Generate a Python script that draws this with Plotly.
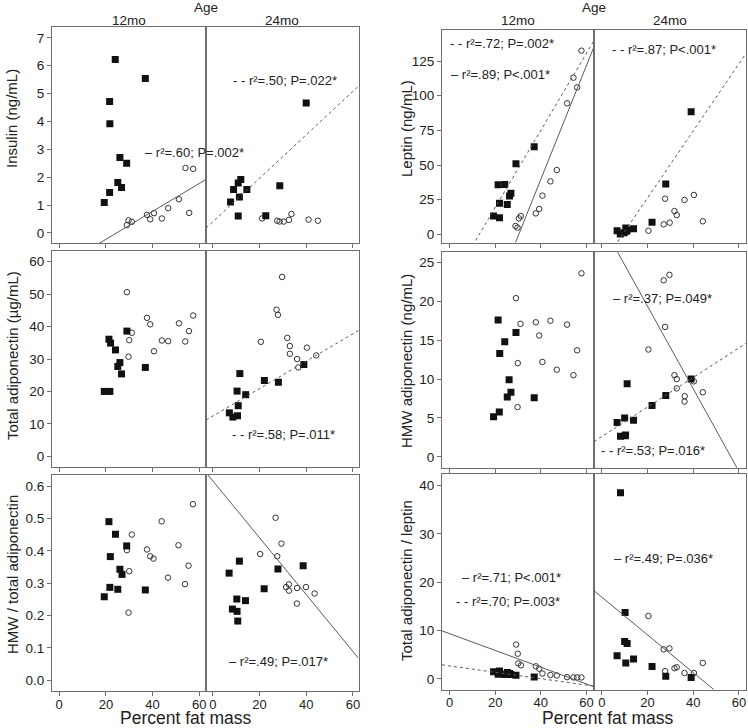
import plotly.graph_objects as go

W, H = 748, 728

# ---------------- data ----------------
# Insulin (ng/mL)
ins12_sq_x = [19.3, 21.6, 21.7, 21.6, 24.0, 26.0, 25.1, 26.7, 28.9, 36.9]
ins12_sq_y = [1.09, 4.72, 3.92, 1.45, 6.22, 2.71, 1.81, 1.63, 2.50, 5.54]
ins12_ci_x = [29.0, 29.7, 31.1, 37.6, 39.0, 40.6, 44.0, 46.7, 51.3, 54.1, 57.4, 55.7]
ins12_ci_y = [0.28, 0.45, 0.40, 0.65, 0.49, 0.71, 0.52, 0.89, 1.21, 2.33, 2.30, 0.72]
ins24_sq_x = [7.6, 8.9, 10.9, 12.0, 11.4, 10.9, 14.6, 22.7, 28.7, 40.0]
ins24_sq_y = [1.11, 1.56, 1.79, 1.92, 1.29, 0.61, 1.56, 0.62, 1.69, 4.66]
ins24_ci_x = [21.1, 27.6, 28.6, 30.4, 32.6, 33.7, 41.0, 45.0]
ins24_ci_y = [0.52, 0.44, 0.41, 0.41, 0.47, 0.68, 0.48, 0.44]

# Leptin (ng/mL)
lep12_sq_x = [19.3, 21.3, 21.9, 21.9, 24.2, 25.3, 26.3, 26.9, 29.1, 37.1]
lep12_sq_y = [13.2, 35.8, 22.4, 12.0, 36.0, 21.6, 27.6, 29.6, 51.0, 63.2]
lep12_ci_x = [28.9, 29.8, 30.4, 31.2, 37.8, 39.3, 40.7, 44.2, 47.0, 51.5, 54.3, 55.9, 57.8]
lep12_ci_y = [6.0, 4.8, 11.5, 13.2, 15.1, 18.3, 27.9, 38.2, 46.4, 94.5, 113.0, 106.0, 132.5]
lep24_sq_x = [6.7, 8.1, 9.8, 10.5, 11.1, 10.8, 13.9, 22.0, 28.0, 39.1]
lep24_sq_y = [2.6, 0.3, 1.2, 4.5, 3.2, 2.2, 4.1, 8.7, 36.3, 88.5]
lep24_ci_x = [20.4, 27.1, 27.7, 29.7, 31.8, 32.8, 36.2, 40.3, 44.2]
lep24_ci_y = [2.6, 7.2, 25.7, 8.4, 16.8, 13.9, 24.8, 28.4, 9.4]

# Total adiponectin (ug/mL)
adp12_sq_x = [19.3, 21.7, 21.3, 22.0, 24.1, 25.1, 26.0, 26.7, 29.0, 36.9]
adp12_sq_y = [20.0, 20.0, 36.1, 34.9, 32.8, 27.7, 28.9, 25.4, 38.6, 27.4]
adp12_ci_x = [29.0, 30.0, 31.1, 29.7, 37.6, 39.0, 40.6, 44.0, 46.7, 51.3, 54.0, 55.6, 57.4]
adp12_ci_y = [50.6, 35.8, 38.1, 30.7, 42.7, 40.7, 32.4, 35.7, 35.5, 41.0, 35.4, 38.6, 43.4]
adp24_sq_x = [7.1, 8.6, 10.6, 10.9, 10.4, 11.6, 14.1, 22.1, 28.1, 39.0]
adp24_sq_y = [13.4, 12.1, 12.5, 15.6, 20.1, 25.5, 19.0, 23.4, 22.8, 28.3]
adp24_ci_x = [20.6, 27.3, 27.9, 29.7, 31.9, 33.0, 33.0, 36.1, 36.6, 40.3, 44.3]
adp24_ci_y = [35.3, 45.2, 43.6, 55.3, 36.5, 34.0, 31.6, 30.0, 27.4, 33.5, 31.1]

# HMW adiponectin (ng/mL)
hmw12_sq_x = [19.3, 21.8, 21.3, 22.0, 24.2, 25.3, 26.1, 26.9, 29.1, 37.1]
hmw12_sq_y = [5.15, 5.75, 17.6, 13.3, 14.8, 7.7, 9.9, 8.3, 16.0, 7.6]
hmw12_ci_x = [29.1, 31.1, 29.9, 29.8, 37.8, 39.3, 40.7, 44.2, 47.0, 51.5, 54.3, 55.9, 57.8]
hmw12_ci_y = [20.4, 17.1, 12.05, 6.4, 17.3, 15.6, 12.2, 17.5, 11.2, 17.0, 10.5, 13.7, 23.6]
hmw24_sq_x = [6.7, 8.2, 10.2, 10.4, 10.0, 11.1, 13.9, 22.0, 28.0, 39.1]
hmw24_sq_y = [4.4, 2.66, 2.7, 2.8, 5.0, 9.4, 4.7, 6.6, 7.9, 10.0]
hmw24_ci_x = [20.4, 27.1, 29.6, 27.7, 31.8, 32.8, 32.8, 36.2, 36.3, 40.3, 44.2]
hmw24_ci_y = [13.8, 22.7, 23.4, 16.7, 10.5, 10.0, 8.8, 7.1, 7.8, 9.7, 8.3]

# HMW / total adiponectin
rat12_sq_x = [19.3, 21.3, 21.9, 21.7, 24.1, 25.1, 26.0, 26.9, 28.9, 36.9]
rat12_sq_y = [0.258, 0.490, 0.382, 0.287, 0.451, 0.281, 0.343, 0.327, 0.415, 0.279]
rat12_ci_x = [29.0, 30.0, 29.7, 31.1, 37.6, 39.0, 40.4, 43.9, 46.6, 51.1, 53.9, 55.4, 57.3]
rat12_ci_y = [0.402, 0.337, 0.209, 0.450, 0.404, 0.383, 0.376, 0.491, 0.317, 0.417, 0.297, 0.354, 0.544]
rat24_sq_x = [7.0, 8.4, 10.3, 10.4, 10.7, 11.4, 14.0, 22.0, 27.9, 38.7]
rat24_sq_y = [0.331, 0.220, 0.251, 0.213, 0.183, 0.368, 0.246, 0.283, 0.344, 0.354]
rat24_ci_x = [20.3, 26.9, 27.6, 29.4, 31.4, 32.6, 32.6, 36.0, 36.1, 39.9, 43.6]
rat24_ci_y = [0.390, 0.502, 0.383, 0.422, 0.288, 0.296, 0.277, 0.237, 0.285, 0.288, 0.268]

# Total adiponectin / leptin
al12_sq_x = [19.3, 21.3, 21.9, 21.9, 24.2, 25.3, 26.3, 26.9, 29.1, 37.1]
al12_sq_y = [1.45, 0.95, 1.6, 1.2, 0.9, 1.3, 1.1, 0.9, 0.76, 0.41]
al12_ci_x = [29.2, 29.9, 30.1, 31.3, 37.8, 39.3, 40.7, 44.2, 47.0, 51.5, 54.3, 55.9, 57.8]
al12_ci_y = [7.1, 5.2, 3.2, 2.8, 2.6, 2.1, 1.1, 0.8, 0.7, 0.35, 0.3, 0.3, 0.3]
al24_sq_x = [6.7, 8.2, 10.2, 10.0, 11.1, 10.5, 13.9, 22.0, 28.0, 39.1]
al24_sq_y = [4.76, 38.5, 13.7, 7.7, 7.3, 3.3, 4.1, 2.55, 0.55, 0.28]
al24_ci_x = [20.4, 27.1, 29.6, 27.7, 31.8, 32.8, 36.2, 40.3, 44.2]
al24_ci_y = [13.0, 6.1, 6.3, 1.6, 2.2, 2.4, 1.2, 1.2, 3.3]

# regression fits: (intercept, slope)
ins12_solid = (-1.23, 0.0501)
ins24_dash = (0.40, 0.078)
lep12_dash = (-36.2, 2.78)
lep12_solid = (-124.6, 4.107)
lep24_dash = (-22.2, 2.42)
adp24_dash = (12.4, 0.423)
hmw24_solid = (30.0, -0.531)
hmw24_dash = (2.6, 0.19)
rat24_solid = (0.616, -0.00878)
al12_solid = (9.35, -0.1735)
al12_dash = (2.68, -0.066)
al24_solid = (16.9, -0.39)

y_titles = ["Insulin (ng/mL)", "Total adiponectin (µg/mL)", "HMW / total adiponectin",
            "Leptin (ng/mL)", "HMW adiponectin (ng/mL)", "Total adiponectin / leptin"]
age_labels = ["12mo", "24mo"]
x_ticks = [0, 20, 40, 60]

# ---------------- layout geometry (pixels) ----------------
FONT = "Liberation Sans, Arial, sans-serif"
LINE_C = "#6e6e6e"
FIT_C = "#5a5a5a"
TXT_C = "#222"

col_x = {"L": [(52, 206), (206, 358.5)], "R": [(442, 594), (594, 746)]}
row_y = {"L": [(26.7, 243), (251, 467), (475, 691)],
         "R": [(30, 242.5), (252.3, 467.7), (474.3, 689.5)]}
xr = {"L": [(-3.1, 62.9), (-2.9, 62.4)], "R": [(-3.3, 63.3), (-3.4, 63.1)]}
title_x = {"L": 12, "R": 406}
xtitle_x = {"L": 185.5, "R": 608}

panels = [
    dict(side="L", row=0, title=y_titles[0], ty=119, yr=(-0.36, 7.4), ytv=[0, 1, 2, 3, 4, 5, 6, 7], ytt=None,
         d12=(ins12_sq_x, ins12_sq_y, ins12_ci_x, ins12_ci_y), d24=(ins24_sq_x, ins24_sq_y, ins24_ci_x, ins24_ci_y),
         fits12=[(ins12_solid, "solid")], fits24=[(ins24_dash, "dot")],
         ann12=[("– r²=.60; P=.002*", 36, 2.9)], ann24=[("- - r²=.50; P=.022*", 7.7, 5.48)]),
    dict(side="L", row=1, title=y_titles[1], ty=356, yr=(-3.3, 63.3), ytv=[0, 10, 20, 30, 40, 50, 60], ytt=None,
         d12=(adp12_sq_x, adp12_sq_y, adp12_ci_x, adp12_ci_y), d24=(adp24_sq_x, adp24_sq_y, adp24_ci_x, adp24_ci_y),
         fits12=[], fits24=[(adp24_dash, "dot")],
         ann12=[], ann24=[("- - r²=.58; P=.011*", 7.4, 6.7)]),
    dict(side="L", row=2, title=y_titles[2], ty=575, yr=(-0.033, 0.634), ytv=[0, 0.1, 0.2, 0.3, 0.4, 0.5, 0.6],
         ytt=["0.0", "0.1", "0.2", "0.3", "0.4", "0.5", "0.6"],
         d12=(rat12_sq_x, rat12_sq_y, rat12_ci_x, rat12_ci_y), d24=(rat24_sq_x, rat24_sq_y, rat24_ci_x, rat24_ci_y),
         fits12=[], fits24=[(rat24_solid, "solid")],
         ann12=[], ann24=[("– r²=.49; P=.017*", 6.0, 0.058)]),
    dict(side="R", row=0, title=y_titles[3], ty=128, yr=(-5.9, 147.4), ytv=[0, 25, 50, 75, 100, 125], ytt=None,
         d12=(lep12_sq_x, lep12_sq_y, lep12_ci_x, lep12_ci_y), d24=(lep24_sq_x, lep24_sq_y, lep24_ci_x, lep24_ci_y),
         fits12=[(lep12_dash, "dot"), (lep12_solid, "solid")], fits24=[(lep24_dash, "dot")],
         ann12=[("- - r²=.72; P=.002*", -0.5, 137.7), ("– r²=.89; P<.001*", -0.3, 115.6)],
         ann24=[("- - r²=.87; P<.001*", 3.7, 133)]),
    dict(side="R", row=1, title=y_titles[4], ty=361, yr=(-1.4, 26.3), ytv=[0, 5, 10, 15, 20, 25], ytt=None,
         d12=(hmw12_sq_x, hmw12_sq_y, hmw12_ci_x, hmw12_ci_y), d24=(hmw24_sq_x, hmw24_sq_y, hmw24_ci_x, hmw24_ci_y),
         fits12=[], fits24=[(hmw24_solid, "solid"), (hmw24_dash, "dot")],
         ann12=[], ann24=[("– r²=.37; P=.049*", 4.0, 20.3), ("- - r²=.53; P=.016*", -1.0, 0.8)]),
    dict(side="R", row=2, title=y_titles[5], ty=580, yr=(-2.2, 42.3), ytv=[0, 10, 20, 30, 40], ytt=None,
         d12=(al12_sq_x, al12_sq_y, al12_ci_x, al12_ci_y), d24=(al24_sq_x, al24_sq_y, al24_ci_x, al24_ci_y),
         fits12=[(al12_solid, "solid"), (al12_dash, "dot")], fits24=[(al24_solid, "solid")],
         ann12=[("– r²=.71; P<.001*", 4.7, 21.0), ("- - r²=.70; P=.003*", 1.8, 15.9)],
         ann24=[("– r²=.49; P=.036*", 4.4, 24.9)]),
]

fig = go.Figure()
layout = {}
annotations = []
ax_i = 0

def px2fx(p):
    return p / W

def px2fy(p):
    return 1 - p / H

for p in panels:
    side, r = p["side"], p["row"]
    y0, y1 = row_y[side][r]
    for a in range(2):
        ax_i += 1
        xname = "xaxis" if ax_i == 1 else f"xaxis{ax_i}"
        yname = "yaxis" if ax_i == 1 else f"yaxis{ax_i}"
        xref = "x" if ax_i == 1 else f"x{ax_i}"
        yref = "y" if ax_i == 1 else f"y{ax_i}"
        x0, x1 = col_x[side][a]
        rng = xr[side][a]
        layout[xname] = dict(
            domain=[px2fx(x0), px2fx(x1)], range=list(rng), anchor=yref, automargin=False,
            showline=True, mirror=True, linecolor=LINE_C, linewidth=1,
            showgrid=False, zeroline=False,
            tickvals=x_ticks, ticks="outside", ticklen=4, tickcolor=LINE_C,
            ticklabelstandoff=-3,
            showticklabels=(r == 2),
            tickfont=dict(family=FONT, size=13, color=TXT_C),
        )
        layout[yname] = dict(
            domain=[px2fy(y1), px2fy(y0)], range=list(p["yr"]), anchor=xref, automargin=False,
            showline=True, mirror=True, linecolor=LINE_C, linewidth=1,
            showgrid=False, zeroline=False,
            tickvals=p["ytv"] if a == 0 else [],
            ticktext=p["ytt"] if (a == 0 and p["ytt"]) else None,
            ticks="outside" if a == 0 else "", ticklen=4, tickcolor=LINE_C,
            showticklabels=(a == 0),
            tickfont=dict(family=FONT, size=13.5, color=TXT_C),
        )
        sx, sy, cx, cy = p["d12"] if a == 0 else p["d24"]
        fig.add_trace(go.Scatter(
            x=cx, y=cy, mode="markers", xaxis=xref, yaxis=yref, showlegend=False,
            marker=dict(symbol="circle-open", size=5.5, color="#333", line=dict(width=1, color="#333")),
            cliponaxis=False))
        fig.add_trace(go.Scatter(
            x=sx, y=sy, mode="markers", xaxis=xref, yaxis=yref, showlegend=False,
            marker=dict(symbol="square", size=7, color="#111", line=dict(width=0))))
        for (b0, b1), dash in (p["fits12"] if a == 0 else p["fits24"]):
            xs = [rng[0], rng[1]]
            ys = [b0 + b1 * v for v in xs]
            fig.add_trace(go.Scatter(
                x=xs, y=ys, mode="lines", xaxis=xref, yaxis=yref, showlegend=False,
                line=dict(color=FIT_C, width=1, dash=dash)))
        for txt, tx, ty in (p["ann12"] if a == 0 else p["ann24"]):
            annotations.append(dict(text=txt, x=tx, y=ty, xref=xref, yref=yref,
                                    xanchor="left", yanchor="middle", showarrow=False,
                                    font=dict(family=FONT, size=13, color=TXT_C)))
        # age labels on top row
        if r == 0:
            annotations.append(dict(text=age_labels[a], x=px2fx((x0 + x1) / 2), y=px2fy(20),
                                    xref="paper", yref="paper", xanchor="center", yanchor="middle",
                                    showarrow=False, font=dict(family=FONT, size=13.5, color=TXT_C)))
    # y title
    annotations.append(dict(text=p["title"], x=px2fx(title_x[side]), y=px2fy(p["ty"]), xref="paper", yref="paper",
                            xanchor="center", yanchor="middle", textangle=-90, showarrow=False,
                            font=dict(family=FONT, size=15, color=TXT_C)))

# "Age" headers and x titles
for side in ("L", "R"):
    xmid = col_x[side][0][1]
    annotations.append(dict(text="Age", x=px2fx(xmid), y=px2fy(8), xref="paper", yref="paper",
                            xanchor="center", yanchor="middle", showarrow=False,
                            font=dict(family=FONT, size=13.5, color=TXT_C)))
    annotations.append(dict(text="Percent fat mass", x=px2fx(xtitle_x[side]), y=px2fy(718), xref="paper", yref="paper",
                            xanchor="center", yanchor="middle", showarrow=False,
                            font=dict(family=FONT, size=17.5, color=TXT_C)))

fig.update_layout(
    width=W, height=H, margin=dict(l=0, r=0, t=0, b=0, autoexpand=False),
    paper_bgcolor="white", plot_bgcolor="white", template="none",
    annotations=annotations, showlegend=False,
    **layout,
)

fig.write_html("out.html", config={"displayModeBar": False},
               post_script="document.body.style.margin='0px';document.body.style.padding='0px';")
